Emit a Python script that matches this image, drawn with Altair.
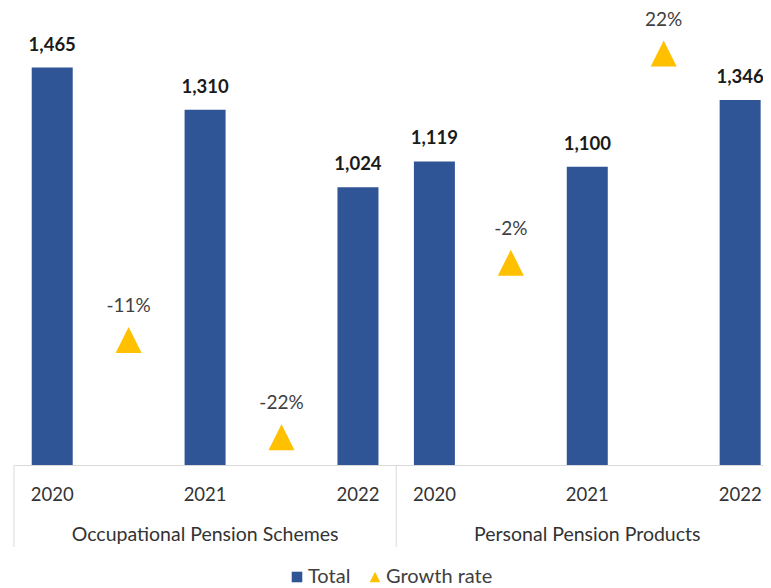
import altair as alt
import pandas as pd

groups = ["Occupational Pension Schemes", "Personal Pension Products"]
years = ["2020", "2021", "2022"]
occupational_totals = [1465, 1310, 1024]
personal_totals = [1119, 1100, 1346]
occupational_growth = [-0.106, -0.218]
personal_growth = [-0.017, 0.224]
series_names = ["Total", "Growth rate"]

totals_by_group = [occupational_totals, personal_totals]
growth_by_group = [occupational_growth, personal_growth]

bar_rows, growth_rows, group_rows = [], [], []
for gi, g in enumerate(groups):
    base = gi * 5
    group_rows.append({"group": g, "center": base + 2, "edge": base - 0.5})
    for yi, y in enumerate(years):
        bar_rows.append({"group": g, "year": y, "slot": base + 2 * yi,
                         "total": totals_by_group[gi][yi]})
    for k, gr in enumerate(growth_by_group[gi]):
        growth_rows.append({"group": g, "slot": base + 2 * k + 1,
                            "growth": gr, "label": f"{round(gr * 100):d}%",
                            "series": "Growth rate"})

bars_df = pd.DataFrame(bar_rows)
growth_df = pd.DataFrame(growth_rows)
groups_df = pd.DataFrame(group_rows)

FONT = "Lato"
BLUE = "#2F5597"
GOLD = "#FFC000"
TRI = "M0,-1L1,1L-1,1Z"

xscale = alt.Scale(domain=[-0.5, 9.299], nice=False, zero=False, padding=0)
xaxis = alt.Axis(labels=False, ticks=False, grid=False, title=None,
                 domainColor="#D9D9D9", domainWidth=1)

x = alt.X("slot:Q", scale=xscale, axis=xaxis)

y_total = alt.Y("total:Q", scale=alt.Scale(domain=[0, 1600], nice=False), axis=None)
y_growth = alt.Y("growth:Q", scale=alt.Scale(domain=[-0.25, 0.25], nice=False), axis=None)

bars = alt.Chart(bars_df).mark_bar(size=41, color=BLUE).encode(x=x, y=y_total)
bar_labels = alt.Chart(bars_df).mark_text(
    dy=-17, baseline="alphabetic", font=FONT, fontWeight="bold", fontSize=18.5, color="#1a1a1a"
).encode(x=x, y=y_total, text=alt.Text("total:Q", format=","))

legend = alt.Legend(orient="none", legendX=273, legendY=536, direction="horizontal",
                    title=None, symbolSize=112, labelFont=FONT, labelFontSize=20,
                    labelColor="#404040", labelOffset=1, columnPadding=14,
                    symbolStrokeWidth=0)

points = alt.Chart(growth_df).mark_point(filled=True, size=676, opacity=1).encode(
    x=x, y=y_growth,
    color=alt.Color("series:N", scale=alt.Scale(domain=series_names, range=[BLUE, GOLD]), legend=legend),
    shape=alt.Shape("series:N", scale=alt.Scale(domain=series_names, range=["square", TRI]), legend=legend),
)
growth_labels = alt.Chart(growth_df).mark_text(
    dy=-28, baseline="alphabetic", font=FONT, fontSize=19, color="#404040"
).encode(x=x, y=y_growth, text="label:N")

year_labels = alt.Chart(bars_df).mark_text(
    baseline="alphabetic", font=FONT, fontSize=18.5, color="#333333"
).encode(x=x, y=alt.value(470), text="year:N")

group_labels = alt.Chart(groups_df).mark_text(
    baseline="alphabetic", font=FONT, fontSize=19.5, color="#333333"
).encode(x=alt.X("center:Q", scale=xscale, axis=xaxis), y=alt.value(510), text="group:N")

separators = alt.Chart(groups_df).mark_rule(color="#D9D9D9", strokeWidth=1).encode(
    x=alt.X("edge:Q", scale=xscale, axis=xaxis), y=alt.value(434), y2=alt.value(516)
)

chart = alt.layer(
    bars, bar_labels, separators, year_labels, group_labels, points, growth_labels
).resolve_scale(y="independent").properties(
    width=749, height=434,
    padding={"left": 6, "top": 23, "right": 0, "bottom": 121},
    autosize=alt.AutoSizeParams(type="none"),
).configure_view(stroke=None)

chart.save("out.html", embed_options={"renderer": "svg", "actions": False})
